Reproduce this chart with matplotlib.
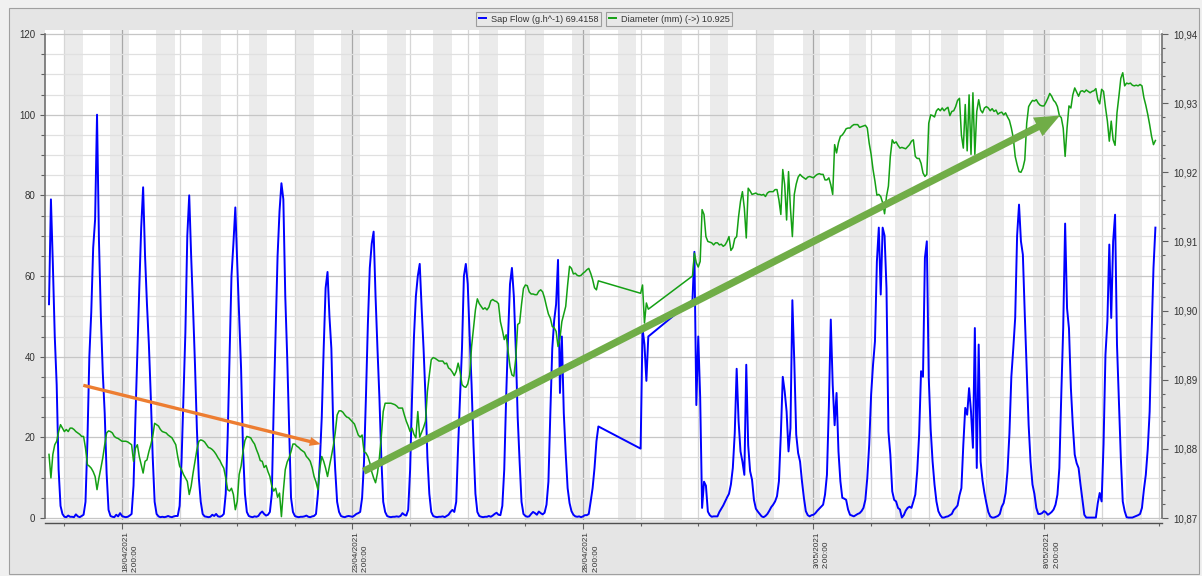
import numpy as np
import pandas as pd
import matplotlib
matplotlib.use('Agg')
import matplotlib.pyplot as plt
import matplotlib.dates as mdates
from matplotlib.ticker import MultipleLocator, FixedLocator, FuncFormatter
from matplotlib.patches import Rectangle
from matplotlib.lines import Line2D

NA = np.nan

# hourly logger readings from 16/04/2021 00:00, one row per day (00h .. 23h)
sap_flow = [
    *([NA] * 12), 53, 79, 63, 45, 33, 12, 3, 1.0, 0.3, 0.2, 0.6, 0.3,
    0.3, 0.2, 0.9, 0.4, 0.2, 0.5, 0.8, 4, 19, 40, 51, 67, 74, 100, 69, 50, 36, 26, 11, 2, 0.5, 0.3, 0.2, 0.8,
    0.4, 1.2, 0.5, 0.3, 0.2, 0.3, 0.6, 1, 8, 25, 41, 57, 72, 82, 65, 53, 43, 30, 15, 4, 1, 0.4, 0.2, 0.3,
    0.2, 0.3, 0.5, 0.3, 0.2, 0.4, 0.5, 0.5, 3, 14, 30, 46, 70, 80, 65, 52, 38, 22, 10, 4, 1, 0.4, 0.3, 0.2,
    0.3, 0.8, 0.5, 1.0, 0.4, 0.3, 0.5, 1, 6, 20, 40, 60, 68, 77, 63, 50, 37, 17, 6, 1.5, 0.5, 0.3, 0.2, 0.4,
    0.3, 0.5, 1.2, 1.6, 1.0, 0.6, 0.8, 1.5, 6, 28, 47, 65, 76, 83, 79, 55, 40, 22, 5, 1.5, 0.5, 0.3, 0.2, 0.3,
    0.3, 0.4, 0.6, 0.3, 0.2, 0.4, 0.5, 1, 6, 14, 25, 42, 57, 61, 50, 42, 22, 12, 4, 1.5, 0.5, 0.3, 0.2, 0.4,
    0.5, 0.4, 0.3, 0.6, 1.0, 1.2, 1.5, 5, 14, 30, 48, 62, 68, 71, 55, 42, 30, 15, 4, 1.5, 0.5, 0.3, 0.2, 0.3,
    0.3, 0.4, 0.3, 0.5, 1.2, 0.8, 0.6, 2, 12, 30, 45, 55, 60, 63, 52, 42, 30, 15, 6, 1.5, 0.5, 0.3, 0.2, 0.3,
    0.3, 0.4, 0.2, 0.5, 0.8, 1.5, 2.0, 1.5, 4, 18, 30, 42, 60, 63, 58, 45, 33, 18, 6, 1.5, 0.5, 0.3, 0.2, 0.3,
    0.3, 0.5, 0.3, 0.6, 1.0, 1.3, 0.8, 0.7, 3, 12, 30, 45, 58, 62, 55, 42, 25, 14, 4, 1, 0.5, 0.3, 0.4, 1.0,
    1.5, 1.2, 0.8, 1.6, 1.2, 0.9, 1.3, 3.3, 9, 26, 42, 49, 53, 64, 31, 45, 26, 16, 7.4, 3.7, 1.7, 0.8, 0.4, 0.3,
    0.4, 0.2, 0.4, 0.7, 0.7, 1.0, 4.1, 7.4, 12.4, 19, 22.7, *([NA] * 13),
    *([NA] * 8), 17.2, 47, 43, 34, 45, *([NA] * 11),
    *([NA] * 11), 54, 66, 28, 45, 30, 2.5, 9, 8, 1.6, 0.7, 0.3, 0.4, 0.4,
    0.4, 1.5, 2.3, 3.1, 4.1, 5.1, 6, 8.3, 12.4, 21, 37, 24, 16.5, 14, 10.7, 38, 18, 11.6, 9.5, 4.5, 2.3, 1.6, 1.0, 0.4,
    0.2, 0.5, 1.0, 1.8, 2.7, 3.3, 4.1, 5.4, 9.1, 20.7, 35, 31.4, 26.4, 16.5, 22.3, 54, 38.8, 20.7, 16.1, 14, 9.1, 5, 1.7, 0.7,
    0.4, 0.7, 0.8, 1.2, 1.8, 2.3, 2.8, 3.3, 5.8, 10.7, 27.7, 49.2, 33, 23, 31, 16.5, 9.1, 5, 4.8, 4.5, 2.1, 0.8, 0.6, 0.4,
    0.7, 1.0, 1.2, 1.7, 2.5, 4.5, 9.9, 18.2, 30.6, 38, 43.8, 63.6, 72, 55.4, 72, 70, 57, 21.5, 15.7, 6.6, 4.5, 4.1, 2.5, 2.1,
    0.1, 0.7, 1.8, 2.5, 2.8, 2.5, 4.1, 5.8, 11.6, 20.7, 36.4, 35, 64.5, 68.6, 34.7, 22, 14, 8.3, 4.1, 1.7, 0.7, 0.1, 0.1, 0.3,
    0.4, 0.7, 1.0, 2.0, 2.5, 3.1, 5.6, 7.4, 18.2, 27.3, 25.6, 32.2, 26.4, 17.4, 47.1, 12.4, 43, 14, 9.3, 6.2, 3.7, 1.5, 0.4, 0.1,
    0.1, 0.3, 0.5, 1.0, 2.8, 3.7, 6.2, 11.6, 21, 35, 42, 49.6, 70, 77.7, 68.6, 65.3, 50.4, 36.4, 23.1, 14, 8.3, 6, 2.5, 1.0,
    1.0, 1.2, 1.7, 1.4, 0.8, 1.1, 1.5, 2.1, 3.3, 5.8, 12.4, 30.6, 47.1, 73, 52, 47, 32.2, 23, 15.7, 13.6, 12.4, 8.3, 4.5, 0.8,
    0.1, 0.1, 0.1, 0.1, 0.1, 0.1, 3.7, 6.2, 4.1, 18.2, 40.5, 48.8, 67.8, 49.6, 68.6, 75.2, 43, 29, 14.9, 4.1, 1.7, 0.2, 0.1, 0.1,
    0.1, 0.3, 0.5, 0.7, 1.0, 2.5, 7, 10.7, 17, 26.4, 45.5, 62, 72, *([NA] * 11),
]

diameter = [
    *([NA] * 12), 10.8792, 10.8758, 10.8792, 10.8806, 10.8811, 10.8825, 10.8835, 10.8830, 10.8825, 10.8828, 10.8825, 10.8830,
    10.8830, 10.8828, 10.8825, 10.8823, 10.8821, 10.8818, 10.8818, 10.8801, 10.8777, 10.8775, 10.8772, 10.8767,
    10.8760, 10.8741, 10.8758, 10.8772, 10.8787, 10.8806, 10.8823, 10.8826, 10.8825, 10.8823, 10.8818, 10.8816,
    10.8815, 10.8813, 10.8811, 10.8811, 10.8811, 10.8810, 10.8808, 10.8806, 10.8782, 10.8801, 10.8806, 10.8789,
    10.8777, 10.8765, 10.8782, 10.8784, 10.8796, 10.8806, 10.8818, 10.8837, 10.8835, 10.8833, 10.8828, 10.8825,
    10.8824, 10.8823, 10.8820, 10.8818, 10.8816, 10.8811, 10.8806, 10.8789, 10.8775, 10.8770, 10.8763, 10.8758,
    10.8753, 10.8734, 10.8746, 10.8765, 10.8782, 10.8799, 10.8811, 10.8813, 10.8812, 10.8810, 10.8806, 10.8802,
    10.8801, 10.8799, 10.8796, 10.8792, 10.8787, 10.8783, 10.8777, 10.8772, 10.8758, 10.8741, 10.8739, 10.8743,
    10.8734, 10.8712, 10.8724, 10.8763, 10.8775, 10.8796, 10.8812, 10.8818, 10.8817, 10.8816, 10.8811, 10.8807,
    10.8799, 10.8792, 10.8783, 10.8782, 10.8773, 10.8776, 10.8767, 10.8760, 10.8746, 10.8739, 10.8743, 10.8730,
    10.8736, 10.8702, 10.8739, 10.8770, 10.8781, 10.8787, 10.8796, 10.8807, 10.8807, 10.8804, 10.8802, 10.8799,
    10.8797, 10.8795, 10.8789, 10.8786, 10.8782, 10.8773, 10.8760, 10.8752, 10.8741, 10.8772, 10.8789, 10.8782,
    10.8772, 10.8760, 10.8775, 10.8789, 10.8804, 10.8823, 10.8849, 10.8855, 10.8855, 10.8853, 10.8849, 10.8846,
    10.8845, 10.8842, 10.8839, 10.8836, 10.8828, 10.8820, 10.8817, 10.8820, 10.8796, 10.8794, 10.8789, 10.8780,
    10.8767, 10.8758, 10.8751, 10.8765, 10.8787, 10.8818, 10.8854, 10.8866, 10.8866, 10.8866, 10.8866, 10.8865,
    10.8864, 10.8862, 10.8859, 10.8859, 10.8859, 10.8849, 10.8840, 10.8833, 10.8825, 10.8830, 10.8821, 10.8816,
    10.8854, 10.8817, 10.8824, 10.8831, 10.8840, 10.8883, 10.8907, 10.8929, 10.8932, 10.8931, 10.8929, 10.8927,
    10.8927, 10.8927, 10.8923, 10.8924, 10.8917, 10.8915, 10.8911, 10.8906, 10.8912, 10.8924, 10.8912, 10.8893,
    10.8890, 10.8889, 10.8894, 10.8907, 10.8948, 10.8975, 10.9001, 10.9017, 10.9010, 10.9006, 10.9002, 10.9004,
    10.9001, 10.9005, 10.9014, 10.9016, 10.9014, 10.9013, 10.9010, 10.8984, 10.8972, 10.8958, 10.8965, 10.8941,
    10.8919, 10.8907, 10.8905, 10.8931, 10.8980, 10.8982, 10.9009, 10.9032, 10.9037, 10.9036, 10.9027, 10.9024,
    10.9024, 10.9023, 10.9023, 10.9028, 10.9030, 10.9027, 10.9018, 10.9006, 10.8995, 10.8989, 10.8977, 10.8975,
    10.8970, 10.8948, 10.8960, 10.8984, 10.8995, 10.9006, 10.9037, 10.9064, 10.9061, 10.9053, 10.9054, 10.9051,
    10.9050, 10.9051, 10.9054, 10.9056, 10.9059, 10.9061, 10.9054, 10.9045, 10.9033, 10.9030, 10.9043, *([NA] * 13),
    *([NA] * 8), 10.9025, 10.9037, 10.8982, 10.9011, 10.9002, *([NA] * 11),
    *([NA] * 11), 10.9050, 10.9083, 10.9069, 10.9063, 10.9071, 10.9146, 10.9139, 10.9107, 10.9100, 10.9099, 10.9098, 10.9095, 10.9098,
    10.9098, 10.9095, 10.9096, 10.9093, 10.9095, 10.9100, 10.9107, 10.9087, 10.9091, 10.9104, 10.9107, 10.9136,
    10.9158, 10.9172, 10.9148, 10.9105, 10.9177, 10.9173, 10.9168, 10.9169, 10.9170, 10.9168, 10.9168, 10.9167,
    10.9168, 10.9165, 10.9170, 10.9172, 10.9172, 10.9172, 10.9175, 10.9175, 10.9160, 10.9139, 10.9204, 10.9182,
    10.9131, 10.9201, 10.9148, 10.9107, 10.9168, 10.9183, 10.9193, 10.9197, 10.9194, 10.9192, 10.9190, 10.9193,
    10.9194, 10.9193, 10.9192, 10.9195, 10.9197, 10.9198, 10.9197, 10.9197, 10.9189, 10.9189, 10.9192, 10.9182,
    10.9168, 10.9240, 10.9228, 10.9243, 10.9252, 10.9254, 10.9258, 10.9263, 10.9264, 10.9264, 10.9267, 10.9269,
    10.9269, 10.9269, 10.9265, 10.9266, 10.9267, 10.9268, 10.9264, 10.9242, 10.9226, 10.9204, 10.9187, 10.9167,
    10.9168, 10.9165, 10.9156, 10.9140, 10.9165, 10.9180, 10.9223, 10.9247, 10.9242, 10.9244, 10.9239, 10.9235,
    10.9236, 10.9235, 10.9234, 10.9237, 10.9240, 10.9245, 10.9247, 10.9223, 10.9220, 10.9220, 10.9213, 10.9199,
    10.9194, 10.9197, 10.9271, 10.9283, 10.9282, 10.9280, 10.9289, 10.9292, 10.9289, 10.9293, 10.9289, 10.9292,
    10.9294, 10.9282, 10.9288, 10.9289, 10.9295, 10.9304, 10.9307, 10.9254, 10.9235, 10.9298, 10.9231, 10.9312,
    10.9226, 10.9315, 10.9226, 10.9288, 10.9305, 10.9290, 10.9286, 10.9293, 10.9295, 10.9293, 10.9289, 10.9292,
    10.9288, 10.9290, 10.9284, 10.9286, 10.9287, 10.9283, 10.9286, 10.9280, 10.9275, 10.9264, 10.9250, 10.9223,
    10.9211, 10.9201, 10.9200, 10.9206, 10.9218, 10.9271, 10.9295, 10.9300, 10.9304, 10.9303, 10.9305, 10.9300,
    10.9297, 10.9296, 10.9296, 10.9301, 10.9307, 10.9314, 10.9310, 10.9304, 10.9301, 10.9295, 10.9282, 10.9279,
    10.9264, 10.9223, 10.9264, 10.9296, 10.9293, 10.9312, 10.9322, 10.9316, 10.9310, 10.9317, 10.9318, 10.9316,
    10.9319, 10.9317, 10.9315, 10.9317, 10.9318, 10.9321, 10.9305, 10.9299, 10.9320, 10.9317, 10.9294, 10.9274,
    10.9245, 10.9274, 10.9247, 10.9239, 10.9286, 10.9310, 10.9336, 10.9344, 10.9325, 10.9329, 10.9328, 10.9329,
    10.9326, 10.9325, 10.9326, 10.9325, 10.9327, 10.9325, 10.9308, 10.9297, 10.9284, 10.9269, 10.9252, 10.9240,
    10.9246, *([NA] * 11),
]

# night shading: evening start (hour) on each day from 16/04, end (hour) the next morning
night_start = [19.8, 19.85, 19.9, 19.9, 19.95, 20.0, 20.0, 20.05, 20.1, 20.1, 20.15, 20.2,
               20.2, 20.25, 20.3, 20.3, 20.35, 20.4, 20.4, 20.45, 20.5, 20.5, 20.55, 20.6]
night_end = [5.85, 5.8, 5.8, 5.75, 5.7, 5.7, 5.65, 5.6, 5.6, 5.55, 5.5, 5.5,
             5.45, 5.4, 5.4, 5.35, 5.3, 5.3, 5.25, 5.2, 5.2, 5.15, 5.1, 5.1]

sap_label = 'Sap Flow (g.h^-1) 69.4158'
dia_label = 'Diameter (mm) (->) 10.925'

assert len(sap_flow) == 600 and len(diameter) == 600

times = pd.date_range('2021-04-16 00:00', periods=600, freq='h')
sf = np.array(sap_flow, dtype=float)
dm = np.array(diameter, dtype=float)

plt.rcParams['font.family'] = ['Liberation Sans', 'DejaVu Sans']

W, H = 1202, 576
fig = plt.figure(figsize=(W / 100, H / 100), dpi=100, facecolor='#f0f0f0')
fig.patches.append(Rectangle((9 / W, 2 / H), 1190 / W, 566 / H, transform=fig.transFigure,
                             fc='#e5e5e5', ec='#a0a0a0', lw=0.8, zorder=-10))

ax = fig.add_axes([45 / W, 56 / H, 1117 / W, 490 / H])
ax.set_facecolor('white')

days = pd.date_range('2021-04-16', periods=len(night_start), freq='D')
for i, d in enumerate(days):
    ax.axvspan(d + pd.Timedelta(hours=night_start[i]),
               d + pd.Timedelta(days=1, hours=night_end[i]),
               color='#ebebeb', lw=0, zorder=0.2)

ok = ~np.isnan(sf)
ax.plot(times[ok], sf[ok], color='#0000ff', lw=1.4, zorder=3)

ax.set_xlim(pd.Timestamp('2021-04-16 09:55'), pd.Timestamp('2021-05-10 15:26'))
ax.set_ylim(-0.5, 121.0)

# axis ticks
major_x = pd.date_range('2021-04-18 02:00', periods=5, freq='5D')
minor_x = pd.date_range('2021-04-16 20:00', '2021-05-10 14:00', freq='30h')
ax.xaxis.set_major_locator(FixedLocator(mdates.date2num(major_x)))
ax.xaxis.set_minor_locator(FixedLocator(mdates.date2num(minor_x)))


def date_label(x, pos):
    d = pd.Timestamp(mdates.num2date(x)).round('s')
    return f"{d.day}/{d.month:02d}/{d.year}\n{d.hour}:{d.minute:02d}:{d.second:02d}"


ax.xaxis.set_major_formatter(FuncFormatter(date_label))
ax.yaxis.set_major_locator(MultipleLocator(20))
ax.yaxis.set_minor_locator(MultipleLocator(5))

ax.set_axisbelow(True)
ax.grid(which='major', axis='y', color='#c6c6c6', lw=0.9)
ax.grid(which='minor', axis='y', color='#e0e0e0', lw=0.9)
ax.grid(which='major', axis='x', color='#a8a8a8', lw=0.9)
ax.grid(which='minor', axis='x', color='#d6d6d6', lw=0.9)

ax.tick_params(axis='y', which='major', length=3.6, width=0.8, color='#606060',
               labelcolor='#333333', labelsize=7, pad=3.3)
ax.tick_params(axis='y', which='minor', length=2.6, width=0.8, color='#606060')
ax.tick_params(axis='x', which='major', length=4.1, width=0.8, color='#606060',
               labelcolor='#333333', labelsize=5.9, pad=2.0, labelrotation=90)
ax.tick_params(axis='x', which='minor', length=2.4, width=0.8, color='#606060')

for s in ['top', 'right']:
    ax.spines[s].set_visible(False)
ax.spines['left'].set_color('#707070')
ax.spines['left'].set_linewidth(1.2)
ax.spines['left'].set_bounds(0, 120)
ax.spines['bottom'].set_color('#505050')
ax.spines['bottom'].set_linewidth(1.0)
ax.spines['bottom'].set_position(('outward', 2.2))

# stem diameter on the right-hand scale
ax2 = ax.twinx()
okd = ~np.isnan(dm)
ax2.plot(times[okd], dm[okd], color='#14a014', lw=1.1, zorder=3)
ax2.set_ylim(10.869711, 10.940581)
ax2.yaxis.set_major_locator(MultipleLocator(0.01))
ax2.yaxis.set_minor_locator(MultipleLocator(0.002))
ax2.yaxis.set_major_formatter(FuncFormatter(lambda v, p: f"{v:.2f}".replace('.', ',')))
ax2.tick_params(axis='y', which='major', length=4.3, width=0.8, color='#606060',
                labelcolor='#333333', labelsize=7, pad=3.6)
ax2.tick_params(axis='y', which='minor', length=2.2, width=0.8, color='#606060')
for s in ['top', 'left', 'bottom']:
    ax2.spines[s].set_visible(False)
ax2.spines['right'].set_color('#707070')
ax2.spines['right'].set_linewidth(1.2)
ax2.spines['right'].set_bounds(10.87, 10.94)


# trend arrows
def trend_arrow(t0, v0, t1, v1, color, style, scale):
    ax2.annotate('', xy=(mdates.date2num(pd.Timestamp(t1)), v1), xycoords=ax.transData,
                 xytext=(mdates.date2num(pd.Timestamp(t0)), v0), textcoords=ax.transData,
                 arrowprops=dict(arrowstyle=style, color=color, mutation_scale=scale,
                                 shrinkA=0, shrinkB=0, lw=0),
                 zorder=6)


trend_arrow('2021-04-17 05:50', 32.9, '2021-04-22 09:30', 18.3, '#ed7d31',
            'simple,head_width=0.65,head_length=0.8,tail_width=0.24', 10)
trend_arrow('2021-04-23 07:50', 11.6, '2021-05-08 10:20', 99.8, '#70ad47',
            'simple,head_width=1.5,head_length=1.8,tail_width=0.52', 10)

# legend boxes along the top
for color, text, cx in [('#0000ff', sap_label, 538.3), ('#14a014', dia_label, 669.2)]:
    leg = fig.legend([Line2D([], [], color=color, lw=1.4)], [text], loc='center',
                     bbox_to_anchor=(cx / W, 1 - 19.2 / H), bbox_transform=fig.transFigure,
                     fontsize=6.6, frameon=True, fancybox=False, handlelength=0.8,
                     handletextpad=0.5, borderpad=0.3, borderaxespad=0)
    leg.get_frame().set_facecolor('#eaeaea')
    leg.get_frame().set_edgecolor('#8a8a8a')
    leg.get_frame().set_linewidth(0.8)
    for t in leg.get_texts():
        t.set_color('#333333')

# rotated date labels: read upwards, starting just right of the tick
for tick in ax.xaxis.get_major_ticks():
    tick.label1.set_horizontalalignment('left')
    tick.label1.set_verticalalignment('top')
    tick.label1.set_multialignment('left')
    tick.label1.set_linespacing(1.45)

fig.savefig('out.png', dpi=100, facecolor=fig.get_facecolor())
